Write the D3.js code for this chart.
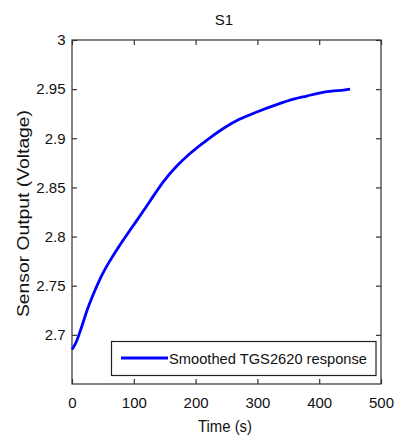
<!DOCTYPE html>
<html><head><meta charset="utf-8">
<script src="https://cdn.jsdelivr.net/npm/d3@7"></script>
<style>body{margin:0;background:#fff}svg{display:block}</style>
</head><body>
<svg id="c" width="403" height="439"></svg>
<script>
const times = [0,3,7,15,25,35,47,60,75,90,105,125,148,170,190,220,250,270,300,330,360,380,400,420,440,450];
const values = [2.685,2.688,2.693,2.707,2.726,2.742,2.759,2.774,2.789,2.803,2.8165,2.835,2.856,2.872,2.884,2.899,2.912,2.919,2.927,2.934,2.940,2.943,2.946,2.948,2.949,2.950];
const xTicks = [0,100,200,300,400,500];
const yTicks = [2.7,2.75,2.8,2.85,2.9,2.95,3];
const seriesName = "Smoothed TGS2620 response";
const title = "S1", xLabel = "Time (s)", yLabel = "Sensor Output (Voltage)";

const L=72,R=381,T=40,B=384;
const svg=d3.select("#c");
const x=d3.scaleLinear().domain([0,500]).range([L,R]);
const y=d3.scaleLinear().domain([2.65,3]).range([B,T]);
const font="Liberation Sans, Arial, sans-serif";
const axc="#333";

svg.append("rect").attr("x",L).attr("y",T).attr("width",R-L).attr("height",B-T)
  .attr("fill","none").attr("stroke",axc).attr("stroke-width",1.2);

const gxb=svg.append("g").attr("transform",`translate(0,${B})`)
  .call(d3.axisBottom(x).tickValues(xTicks).tickSize(-5).tickPadding(13).tickFormat(d3.format("d")));
const gxt=svg.append("g").attr("transform",`translate(0,${T})`)
  .call(d3.axisTop(x).tickValues(xTicks).tickSize(-5).tickFormat(""));
const gyl=svg.append("g").attr("transform",`translate(${L},0)`)
  .call(d3.axisLeft(y).tickValues(yTicks).tickSize(-5).tickPadding(6.5).tickFormat(d=>String(+d.toFixed(2))));
const gyr=svg.append("g").attr("transform",`translate(${R},0)`)
  .call(d3.axisRight(y).tickValues(yTicks).tickSize(-5).tickFormat(""));
[gxb,gxt,gyl,gyr].forEach(g=>{
  g.select(".domain").remove();
  g.selectAll(".tick line").attr("stroke",axc).attr("stroke-width",1.2);
  g.selectAll(".tick text").attr("fill","#111").style("font-family",font).style("font-size","15px");
});

svg.append("path").datum(times.map((t,i)=>[t,values[i]]))
  .attr("fill","none").attr("stroke","#0000ff").attr("stroke-width",2.8)
  .attr("stroke-linejoin","round")
  .attr("d",d3.line().x(d=>x(d[0])).y(d=>y(d[1])).curve(d3.curveMonotoneX));

svg.append("rect").attr("x",111.5).attr("y",341.5).attr("width",264.5).attr("height",34)
  .attr("fill","#fff").attr("stroke","#222").attr("stroke-width",1.2);
svg.append("line").attr("x1",121).attr("x2",168).attr("y1",358).attr("y2",358)
  .attr("stroke","#0000ff").attr("stroke-width",2.8);
svg.append("text").attr("x",169).attr("y",363.5).text(seriesName)
  .attr("textLength",198).attr("lengthAdjust","spacingAndGlyphs")
  .style("font-family",font).style("font-size","15px").attr("fill","#111");

svg.append("text").attr("x",224).attr("y",25).attr("text-anchor","middle").text(title)
  .style("font-family",font).style("font-size","15px").attr("fill","#111");
svg.append("text").attr("x",225).attr("y",432).attr("text-anchor","middle").text(xLabel)
  .attr("textLength",54).attr("lengthAdjust","spacingAndGlyphs")
  .style("font-family",font).style("font-size","16px").attr("fill","#111");
svg.append("text").attr("transform","translate(29,213.5) rotate(-90)").attr("text-anchor","middle").text(yLabel)
  .attr("textLength",207).attr("lengthAdjust","spacingAndGlyphs")
  .style("font-family",font).style("font-size","16px").attr("fill","#111");
</script>
</body></html>
